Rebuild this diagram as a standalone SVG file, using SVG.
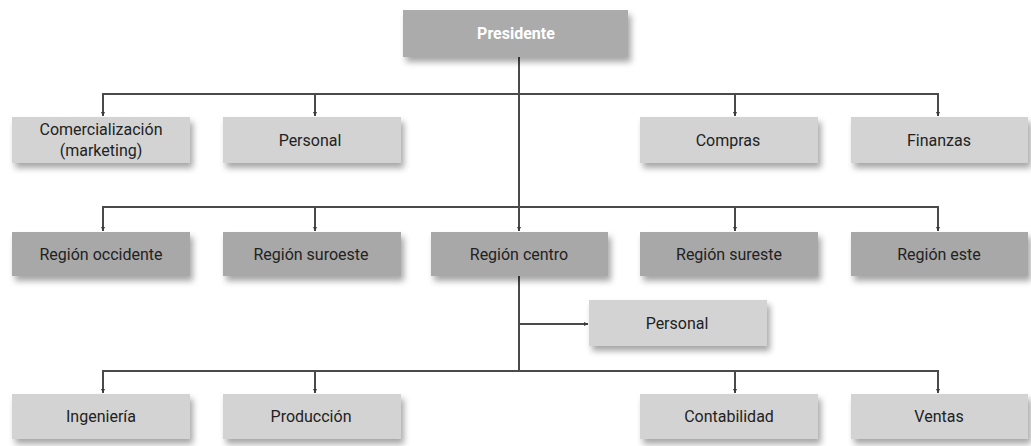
<svg xmlns="http://www.w3.org/2000/svg" width="1031" height="446" viewBox="0 0 1031 446">
  <defs>
    <filter id="shadow" x="-10%" y="-20%" width="125%" height="160%">
      <feDropShadow dx="3" dy="5" stdDeviation="3" flood-color="#000" flood-opacity="0.35"/>
    </filter>
    <marker id="tip" viewBox="0 0 6 6" refX="6" refY="3" markerWidth="2.2" markerHeight="2.2" orient="auto" markerUnits="strokeWidth">
      <path d="M0,0 L6,3 L0,6 Z" fill="#3a3a3a"/>
    </marker>
    <style>
      .box { filter: url(#shadow); }
      .dark { fill: #a8a8a8; }
      .light { fill: #d3d3d3; }
      .top { fill: #ababab; }
      text { font-family: Roboto, "Liberation Sans", sans-serif; font-size: 16px; fill: #222222; text-anchor: middle; }
      .head { fill: #ffffff; font-weight: bold; }
      .wire { fill: none; stroke: #4a4a4a; stroke-width: 2; }
      .arrow { fill: none; stroke: #4a4a4a; stroke-width: 2; marker-end: url(#tip); }
    </style>
  </defs>

  <!-- connectors -->
  <g id="connectors">
    <!-- main trunk -->
    <line class="wire" x1="519" y1="57" x2="519" y2="207"/>
    <line class="arrow" x1="519" y1="207" x2="519" y2="231"/>
    <line class="wire" x1="519" y1="276" x2="519" y2="371"/>
    <!-- staff row -->
    <polyline class="wire" points="103,110 103,94 938,94 938,110"/>
    <line class="arrow" x1="103" y1="100" x2="103" y2="116"/>
    <line class="arrow" x1="315" y1="94" x2="315" y2="116"/>
    <line class="arrow" x1="735" y1="94" x2="735" y2="116"/>
    <line class="arrow" x1="938" y1="100" x2="938" y2="116"/>
    <!-- regions row -->
    <polyline class="wire" points="103,224 103,207 938,207 938,224"/>
    <line class="arrow" x1="103" y1="213" x2="103" y2="231"/>
    <line class="arrow" x1="315" y1="207" x2="315" y2="231"/>
    <line class="arrow" x1="735" y1="207" x2="735" y2="231"/>
    <line class="arrow" x1="938" y1="213" x2="938" y2="231"/>
    <!-- personal (centre) -->
    <line class="arrow" x1="519" y1="324" x2="588" y2="324"/>
    <!-- departments row -->
    <polyline class="wire" points="103,386 103,371 938,371 938,386"/>
    <line class="arrow" x1="103" y1="377" x2="103" y2="393"/>
    <line class="arrow" x1="315" y1="371" x2="315" y2="393"/>
    <line class="arrow" x1="735" y1="371" x2="735" y2="393"/>
    <line class="arrow" x1="938" y1="377" x2="938" y2="393"/>
  </g>

  <g id="presidente">
    <rect class="box top" x="403" y="10" width="225" height="47"/>
    <text class="head" x="516" y="39">Presidente</text>
  </g>

  <g id="comercializacion">
    <rect class="box light" x="12" y="117" width="178" height="46"/>
    <text x="101" y="135">Comercialización</text>
    <text x="101" y="156">(marketing)</text>
  </g>
  <g id="personal">
    <rect class="box light" x="223" y="117" width="178" height="46"/>
    <text x="310" y="146">Personal</text>
  </g>
  <g id="compras">
    <rect class="box light" x="640" y="117" width="178" height="46"/>
    <text x="728" y="146">Compras</text>
  </g>
  <g id="finanzas">
    <rect class="box light" x="851" y="117" width="177" height="46"/>
    <text x="939" y="146">Finanzas</text>
  </g>

  <g id="region-occidente">
    <rect class="box dark" x="12" y="232" width="178" height="44"/>
    <text x="101" y="260">Región occidente</text>
  </g>
  <g id="region-suroeste">
    <rect class="box dark" x="223" y="232" width="178" height="44"/>
    <text x="311" y="260">Región suroeste</text>
  </g>
  <g id="region-centro">
    <rect class="box dark" x="431" y="232" width="177" height="44"/>
    <text x="519" y="260">Región centro</text>
  </g>
  <g id="region-sureste">
    <rect class="box dark" x="640" y="232" width="178" height="44"/>
    <text x="729" y="260">Región sureste</text>
  </g>
  <g id="region-este">
    <rect class="box dark" x="851" y="232" width="177" height="44"/>
    <text x="939" y="260">Región este</text>
  </g>

  <g id="personal-centro">
    <rect class="box light" x="589" y="300" width="178" height="46"/>
    <text x="677" y="329">Personal</text>
  </g>

  <g id="ingenieria">
    <rect class="box light" x="12" y="394" width="178" height="45"/>
    <text x="101" y="422">Ingeniería</text>
  </g>
  <g id="produccion">
    <rect class="box light" x="223" y="394" width="178" height="45"/>
    <text x="311" y="422">Producción</text>
  </g>
  <g id="contabilidad">
    <rect class="box light" x="640" y="394" width="178" height="45"/>
    <text x="729" y="422">Contabilidad</text>
  </g>
  <g id="ventas">
    <rect class="box light" x="851" y="394" width="177" height="45"/>
    <text x="939" y="422">Ventas</text>
  </g>
</svg>
